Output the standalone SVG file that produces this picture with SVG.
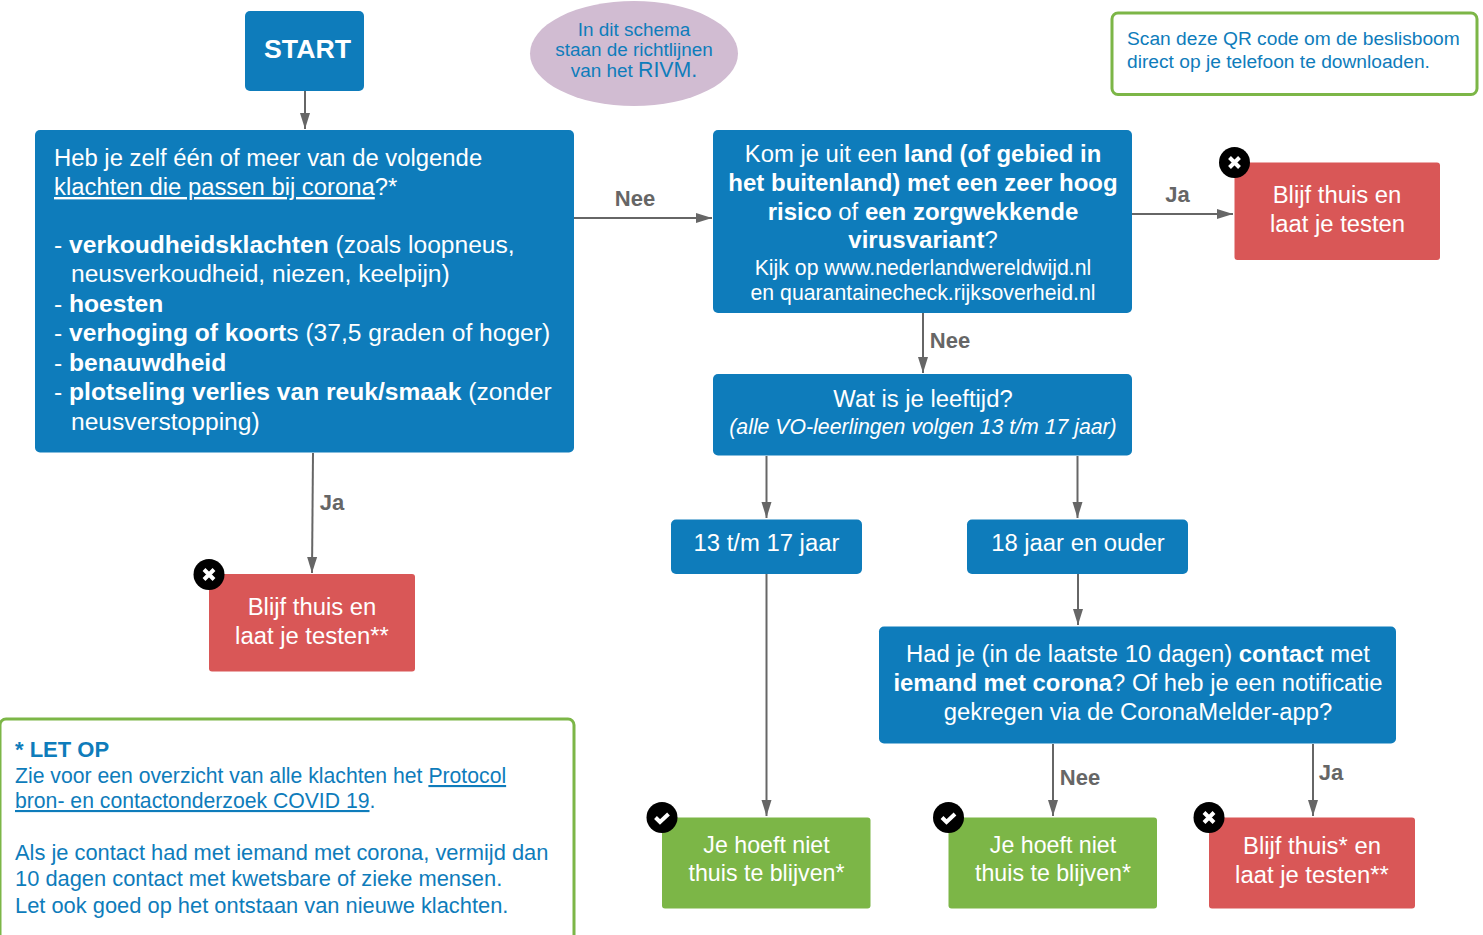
<svg xmlns="http://www.w3.org/2000/svg" width="1483" height="935" viewBox="0 0 1483 935">
<style>
text{font-family:"Liberation Sans",Arial,sans-serif}
.b{fill:#0e7cbb}
.r{fill:#d95757}
.g{fill:#7cb647}
.w{fill:#fff;font-size:23.85px}
.c{text-anchor:middle}
.bb{font-weight:700}
.u{text-decoration:underline}
.bl{fill:#0e7cbb;font-size:21.87px}
.l{fill:#666;font-size:22px;font-weight:700}
.cn{stroke:#666;stroke-width:2;fill:none;marker-end:url(#a)}
.o{fill:#fff;stroke:#7cb647;stroke-width:3}
.ic{stroke:#fff;stroke-width:4;fill:none}
.big{font-size:24.6px}
.sm{font-size:21.25px}
.gr{font-size:23.2px}
.ov{font-size:18.9px}
.qr{font-size:19.2px}
.lo{font-size:21.2px}
.b24{font-weight:700;font-size:24px}
</style>
<defs>
<marker id="a" markerUnits="userSpaceOnUse" markerWidth="17" markerHeight="18" refX="16" refY="9" orient="auto"><path d="M0 4L16 9L0 14Z" fill="#666"/></marker>
<g id="x"><circle r="15.5" fill="#000"/><path class="ic" d="M-5-5L5 5M5-5L-5 5"/></g>
<g id="v"><circle r="15.5" fill="#000"/><path class="ic" d="M-6.500 0L-2 4.500L6.500-3.500"/></g>
</defs>
<g id="connectors">
<path class="cn" d="M305 91V129"/>
<path class="cn" d="M574 218H712"/>
<path class="cn" d="M1132 214H1233"/>
<path class="cn" d="M923 313V373"/>
<path class="cn" d="M313 453L312 573"/>
<path class="cn" d="M766.500 456V518"/>
<path class="cn" d="M1077.500 456V518"/>
<path class="cn" d="M1078 574V625"/>
<path class="cn" d="M766.500 574V816"/>
<path class="cn" d="M1053 744V816"/>
<path class="cn" d="M1313 744V816"/>
<text class="l c" x="635" y="206">Nee</text>
<text class="l c" x="1177.500" y="202">Ja</text>
<text class="l c" x="950" y="348">Nee</text>
<text class="l c" x="332" y="510">Ja</text>
<text class="l c" x="1080" y="785">Nee</text>
<text class="l c" x="1331" y="780">Ja</text>
</g>
<g id="start"><rect class="b" x="245" y="11" width="119" height="80" rx="5"/><text class="w bb c" x="307.500" y="58" style="font-size:26.7px">START</text></g>
<g id="note-rivm"><ellipse cx="634" cy="53.500" rx="104" ry="52.500" fill="#d1bcd2"/><text class="bl c ov" x="634" y="36">In dit schema</text><text class="bl c ov" x="634" y="55.500">staan de richtlijnen</text><text class="bl c ov" x="634" y="77">van het <tspan style="font-size:21.3px">RIVM.</tspan></text></g>
<g id="note-qr"><rect class="o" x="1112" y="13" width="365" height="81.500" rx="6"/><text class="bl qr" x="1127" y="45">Scan deze QR code om de beslisboom</text><text class="bl qr" x="1127" y="68">direct op je telefoon te downloaden.</text></g>
<g id="q1"><rect class="b" x="35" y="130" width="539" height="322.500" rx="5"/>
<text class="w"><tspan x="54" y="166">Heb je zelf één of meer van de volgende</tspan><tspan x="54" y="195"><tspan class="u">klachten die passen bij corona</tspan>?*</tspan><tspan x="54" y="253" class="big">- <tspan class="bb">verkoudheidsklachten</tspan> (zoals loopneus,</tspan><tspan x="71" y="282" class="big">neusverkoudheid, niezen, keelpijn)</tspan><tspan x="54" y="312" class="big">- <tspan class="bb">hoesten</tspan></tspan><tspan x="54" y="341" class="big">- <tspan class="bb">verhoging of koort</tspan>s (37,5 graden of hoger)</tspan><tspan x="54" y="371" class="big">- <tspan class="bb">benauwdheid</tspan></tspan><tspan x="54" y="400" class="big">- <tspan class="bb">plotseling verlies van reuk/smaak</tspan> (zonder</tspan><tspan x="71" y="430" class="big">neusverstopping)</tspan></text></g>
<g id="q2"><rect class="b" x="713" y="130" width="419" height="183" rx="5"/>
<text class="w c"><tspan x="923" y="162">Kom je uit een <tspan class="bb">land (of gebied in</tspan></tspan><tspan x="923" y="191" class="b24">het buitenland) met een zeer hoog</tspan><tspan x="923" y="220"><tspan class="b24">risico</tspan> of <tspan class="b24">een zorgwekkende</tspan></tspan><tspan x="923" y="248"><tspan class="b24">virusvariant</tspan>?</tspan><tspan x="923" y="275" class="sm">Kijk op www.nederlandwereldwijd.nl</tspan><tspan x="923" y="300" class="sm">en quarantainecheck.rijksoverheid.nl</tspan></text></g>
<g id="stop1"><rect class="r" x="1234.500" y="162.500" width="205.500" height="97.500" rx="3"/><text class="w c"><tspan x="1337" y="203">Blijf thuis en</tspan><tspan x="1337.500" y="232">laat je testen</tspan></text><use href="#x" x="1234.500" y="162.500"/></g>
<g id="q3"><rect class="b" x="713" y="374" width="419" height="81.500" rx="5"/><text class="w c"><tspan x="923" y="407">Wat is je leeftijd?</tspan><tspan x="923" y="434" class="sm" style="font-style:italic">(alle VO-leerlingen volgen 13 t/m 17 jaar)</tspan></text></g>
<g id="stop2"><rect class="r" x="209" y="574" width="206" height="97.500" rx="3"/><text class="w c"><tspan x="312" y="615">Blijf thuis en</tspan><tspan x="312" y="644">laat je testen**</tspan></text><use href="#x" x="209" y="574.500"/></g>
<g id="age1"><rect class="b" x="671" y="519.500" width="191" height="54.500" rx="5"/><text class="w c" x="766.500" y="551">13 t/m 17 jaar</text></g>
<g id="age2"><rect class="b" x="967" y="519.500" width="221" height="54.500" rx="5"/><text class="w c" x="1078" y="551">18 jaar en ouder</text></g>
<g id="q4"><rect class="b" x="879" y="626.500" width="517" height="117" rx="5"/>
<text class="w c"><tspan x="1138" y="662">Had je (in de laatste 10 dagen) <tspan class="bb">contact</tspan> met</tspan><tspan x="1138" y="691"><tspan class="bb">iemand met corona</tspan>? Of heb je een notificatie</tspan><tspan x="1138" y="720">gekregen via de CoronaMelder-app?</tspan></text></g>
<g id="ok1"><rect class="g" x="662" y="817.500" width="208.500" height="91" rx="3"/><text class="w c gr"><tspan x="766.500" y="853">Je hoeft niet</tspan><tspan x="766.500" y="881">thuis te blijven*</tspan></text><use href="#v" x="662" y="817.500"/></g>
<g id="ok2"><rect class="g" x="948.500" y="817.500" width="208.500" height="91" rx="3"/><text class="w c gr"><tspan x="1053" y="853">Je hoeft niet</tspan><tspan x="1053" y="881">thuis te blijven*</tspan></text><use href="#v" x="948.500" y="817.500"/></g>
<g id="stop3"><rect class="r" x="1209" y="817.500" width="206" height="91" rx="3"/><text class="w c"><tspan x="1312" y="854">Blijf thuis* en</tspan><tspan x="1312" y="883">laat je testen**</tspan></text><use href="#x" x="1209" y="817.500"/></g>
<g id="note-letop"><rect class="o" x="0" y="719" width="574" height="230" rx="6"/>
<text class="bl"><tspan x="15" y="757" class="bb" style="font-size:22px">* LET OP</tspan><tspan x="15" y="783" class="lo">Zie voor een overzicht van alle klachten het <tspan class="u">Protocol</tspan></tspan><tspan x="15" y="808" class="lo"><tspan class="u">bron- en contactonderzoek COVID 19</tspan>.</tspan><tspan x="15" y="860">Als je contact had met iemand met corona, vermijd dan</tspan><tspan x="15" y="886">10 dagen contact met kwetsbare of zieke mensen.</tspan><tspan x="15" y="912.500">Let ook goed op het ontstaan van nieuwe klachten.</tspan></text></g>
</svg>
